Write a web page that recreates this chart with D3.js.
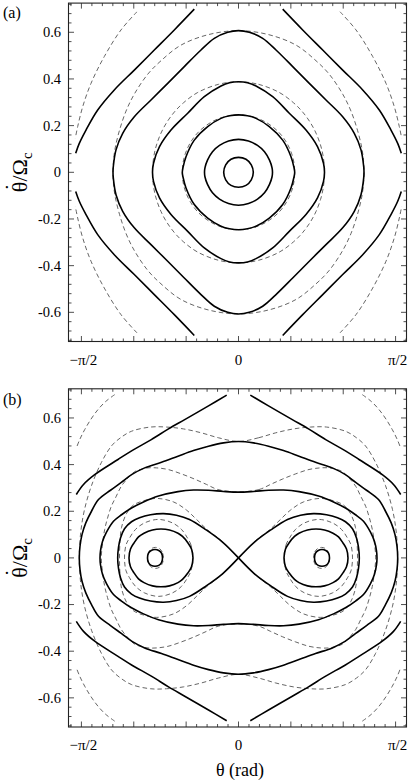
<!DOCTYPE html>
<html><head><meta charset="utf-8">
<script src="https://cdn.jsdelivr.net/npm/d3@7"></script>
<style>
body{margin:0;background:#fff}
svg{display:block}
</style>
</head><body>
<svg id="c" width="409" height="784" font-family="Liberation Serif" style="font-family:'Liberation Serif',serif"></svg>
<script>
// ---------- axis data ----------
const xTickLabels = [[-Math.PI/2, "\u2212\u03c0/2"], [0, "0"], [Math.PI/2, "\u03c0/2"]];
const yTickLabels = [0.6, 0.4, 0.2, 0, -0.2, -0.4, -0.6];
const xDomain = [-1.70, 1.68];
const yDomain = [-0.725, 0.725];

// ---------- panel (a) : quadrant arcs [theta, thetaDot] from top (theta=0) to side (thetaDot=0) ----------
const aSolid1 = [[0,0.064],[0.075,0.056],[0.128,0.032],[0.148,0]];
const aSolid2 = [[0,0.141],[0.1,0.134],[0.19,0.115],[0.26,0.088],[0.31,0.052],[0.335,0.02],[0.34,0]];
const aSolid3 = [[0,0.246],[0.09,0.242],[0.175,0.231],[0.308,0.196],[0.442,0.138],[0.525,0.067],[0.555,0.02],[0.562,0]];
const aSolid4 = [[0,0.388],[0.09,0.384],[0.175,0.37],[0.342,0.324],[0.508,0.253],[0.675,0.181],[0.79,0.11],[0.85,0.039],[0.86,0]];
const aSolid5 = [[0,0.607],[0.108,0.6],[0.242,0.574],[0.375,0.524],[0.542,0.453],[0.708,0.381],[0.875,0.31],[1.042,0.238],[1.158,0.167],[1.225,0.096],[1.252,0.024],[1.255,0]];
// open branch (upper right), repeated in the other quadrants
const aSolidOpen = [[0.442,0.699],[0.642,0.61],[0.842,0.524],[1.042,0.438],[1.242,0.353],[1.408,0.267],[1.525,0.181],[1.592,0.124],[1.628,0.082]];
const aDash3 = [[0,0.246],[0.15,0.237],[0.28,0.213],[0.4,0.173],[0.48,0.128],[0.53,0.082],[0.555,0.04],[0.562,0]];
const aDash4 = [[0,0.388],[0.2,0.377],[0.408,0.342],[0.55,0.298],[0.642,0.258],[0.72,0.212],[0.775,0.168],[0.82,0.117],[0.848,0.065],[0.86,0]];
const aDash5 = [[0,0.607],[0.3,0.59],[0.575,0.545],[0.775,0.478],[0.908,0.42],[1.042,0.335],[1.125,0.262],[1.19,0.18],[1.235,0.1],[1.252,0.04],[1.255,0]];
const aDashOpen = [[1.015,0.688],[1.175,0.61],[1.342,0.496],[1.475,0.381],[1.558,0.281],[1.608,0.196],[1.632,0.146]];

// ---------- panel (b) ----------
const bSolidOpen = [[0.118,0.698],[0.3,0.652],[0.538,0.593],[0.7,0.553],[0.872,0.507],[1.065,0.46],[1.205,0.422],[1.438,0.357],[1.55,0.315],[1.622,0.272]];
const bSolidOuter = [[0,0.499],[0.15,0.493],[0.3,0.479],[0.45,0.46],[0.605,0.436],[0.77,0.41],[0.938,0.386],[1.065,0.358],[1.172,0.324],[1.28,0.29],[1.4,0.25],[1.47,0.2],[1.527,0.15],[1.565,0.1],[1.585,0.05],[1.592,0]];
const bSolidPeanut = [[0,0.282],[0.15,0.285],[0.3,0.29],[0.45,0.291],[0.605,0.284],[0.8,0.265],[0.95,0.24],[1.07,0.214],[1.17,0.185],[1.25,0.157],[1.32,0.11],[1.36,0.07],[1.38,0.03],[1.385,0]];
// separatrix lobe, upper half of the right lobe, from the origin to the outer tip
const bSolidLobe = [[0,0],[0.157,0.067],[0.323,0.12],[0.49,0.165],[0.62,0.183],[0.75,0.19],[0.88,0.185],[0.99,0.172],[1.07,0.155],[1.14,0.125],[1.18,0.085],[1.2,0.045],[1.208,0]];
// orbits around the right well, upper half, from inner to outer end
const bSolidRing = [[0.455,0],[0.47,0.038],[0.505,0.064],[0.56,0.092],[0.605,0.106],[0.69,0.12],[0.775,0.124],[0.86,0.12],[0.945,0.106],[1.0,0.09],[1.045,0.064],[1.08,0.038],[1.095,0]];
const bSolidSmall = [[0.76,0],[0.77,0.02],[0.797,0.032],[0.835,0.036],[0.873,0.032],[0.9,0.02],[0.91,0]];
const bDashOpen = [[1.238,0.70],[1.33,0.67],[1.405,0.636],[1.475,0.595],[1.538,0.55],[1.585,0.51],[1.622,0.471]];
const bDashOuter = [[0,0.499],[0.2,0.515],[0.37,0.536],[0.55,0.553],[0.72,0.561],[0.88,0.561],[1.07,0.543],[1.18,0.515],[1.27,0.48],[1.37,0.41],[1.47,0.31],[1.54,0.207],[1.575,0.12],[1.59,0.04],[1.592,0]];
const bDashPeanut = [[0,0.283],[0.205,0.293],[0.32,0.315],[0.44,0.338],[0.57,0.36],[0.705,0.379],[0.82,0.386],[0.905,0.386],[0.975,0.38],[1.038,0.37],[1.1,0.345],[1.172,0.307],[1.225,0.262],[1.272,0.221],[1.31,0.17],[1.338,0.122],[1.36,0.06],[1.372,0]];
const bDashLobe = [[0,0],[0.157,0.068],[0.323,0.125],[0.42,0.165],[0.52,0.205],[0.65,0.24],[0.818,0.255],[0.95,0.245],[1.052,0.226],[1.12,0.19],[1.17,0.13],[1.185,0.07],[1.19,0]];
const bDashRing = [[0.46,0],[0.475,0.055],[0.51,0.085],[0.57,0.122],[0.66,0.15],[0.8,0.165],[0.94,0.15],[1.03,0.122],[1.09,0.085],[1.125,0.055],[1.14,0]];
const bDashSmall = [[0.75,0],[0.763,0.025],[0.79,0.04],[0.83,0.045],[0.87,0.04],[0.897,0.025],[0.91,0]];

// ---------- symmetry helpers ----------
const negV = ([t,v]) => [t,-v];
const negT = ([t,v]) => [-t,v];
function quadLoop(q){
  const q4 = q.slice(0,-1).reverse().map(negV);
  const q3 = q.slice(1).map(([t,v]) => [-t,-v]);
  const q2 = q.slice(1,-1).reverse().map(negT);
  return q.concat(q4,q3,q2);
}
function halfLoop(h){ return h.concat(h.slice(1,-1).reverse().map(negV)); }
function lobe(h){ return h.concat(h.slice(0,-1).reverse().map(negV)); }
function fourCopies(b){ return [b, b.map(negT), b.map(negV), b.map(([t,v])=>[-t,-v])]; }

// ---------- layout ----------
const svg = d3.select('#c');
const FONT = "'Liberation Serif', 'Times New Roman', serif";
const panels = [
  {label:'(a)', top:3.1, bottom:341.5, labY:18,
   closedSolid:[aSolid1,aSolid2,aSolid3,aSolid4,aSolid5].map(quadLoop),
   closedDash:[aDash3,aDash4,aDash5].map(quadLoop),
   openSolid:fourCopies(aSolidOpen), openDash:fourCopies(aDashOpen)},
  {label:'(b)', top:388.8, bottom:727.0, labY:405, xTitle:true,
   closedSolid:[bSolidOuter,bSolidPeanut].map(quadLoop)
      .concat([bSolidRing,bSolidSmall].flatMap(h => { const l = halfLoop(h); return [l, l.map(negT)]; })),
   closedDash:[bDashOuter,bDashPeanut].map(quadLoop)
      .concat([bDashRing,bDashSmall].flatMap(h => { const l = halfLoop(h); return [l, l.map(negT)]; })),
   openSolid:fourCopies(bSolidOpen).concat([lobe(bSolidLobe), lobe(bSolidLobe).map(negT)]),
   openDash:fourCopies(bDashOpen).concat([lobe(bDashLobe), lobe(bDashLobe).map(negT)])}
];

const x = d3.scaleLinear().domain(xDomain).range([68.5, 406.5]);
const tickCol = '#222';

panels.forEach((p, i) => {
  const y = d3.scaleLinear().domain(yDomain).range([p.bottom, p.top]);
  const g = svg.append('g').attr('font-family', FONT);
  const clipId = 'clip' + i;
  svg.append('clipPath').attr('id', clipId).append('rect')
    .attr('x', x.range()[0]).attr('y', p.top)
    .attr('width', x.range()[1]-x.range()[0]).attr('height', p.bottom-p.top);

  const plot = g.append('g').attr('clip-path', `url(#${clipId})`);
  const closedLine = d3.line().x(d=>x(d[0])).y(d=>y(d[1])).curve(d3.curveCatmullRomClosed.alpha(0.5));
  const openLine = d3.line().x(d=>x(d[0])).y(d=>y(d[1])).curve(d3.curveCatmullRom.alpha(0.5));

  const dashStyle = s => s.attr('fill','none').attr('stroke','#555').attr('stroke-width',0.9).attr('stroke-dasharray','4.5,3');
  const solidStyle = s => s.attr('fill','none').attr('stroke','#000').attr('stroke-width',1.6).attr('stroke-linejoin','round');

  plot.selectAll('path.cd').data(p.closedDash).join('path').attr('class','cd').attr('d', closedLine).call(dashStyle);
  plot.selectAll('path.od').data(p.openDash).join('path').attr('class','od').attr('d', openLine).call(dashStyle);
  plot.selectAll('path.cs').data(p.closedSolid).join('path').attr('class','cs').attr('d', closedLine).call(solidStyle);
  plot.selectAll('path.os').data(p.openSolid).join('path').attr('class','os').attr('d', openLine).call(solidStyle);

  // ticks
  const xMinor = d3.range(-16, 17).map(k => k*Math.PI/30).filter(v => v > xDomain[0] && v < xDomain[1]);
  const yMinor = d3.range(-18, 19).map(k => k*0.04).filter(v => v > yDomain[0]+0.001 && v < yDomain[1]-0.001);
  const tg = g.append('g').attr('stroke', tickCol).attr('stroke-width', 0.8);
  xMinor.forEach(v => {
    const major = Math.abs(Math.round(v/(Math.PI/6))*(Math.PI/6) - v) < 1e-6;
    const L = major ? 5.5 : 3;
    tg.append('line').attr('x1', x(v)).attr('x2', x(v)).attr('y1', p.bottom).attr('y2', p.bottom - L);
    tg.append('line').attr('x1', x(v)).attr('x2', x(v)).attr('y1', p.top).attr('y2', p.top + L);
  });
  yMinor.forEach(v => {
    const major = Math.abs(Math.round(v/0.2)*0.2 - v) < 1e-6;
    const L = major ? 5.5 : 3;
    tg.append('line').attr('x1', x.range()[0]).attr('x2', x.range()[0] + L).attr('y1', y(v)).attr('y2', y(v));
    tg.append('line').attr('x1', x.range()[1]).attr('x2', x.range()[1] - L).attr('y1', y(v)).attr('y2', y(v));
  });

  // frame
  g.append('rect').attr('x', x.range()[0]).attr('y', p.top)
    .attr('width', x.range()[1]-x.range()[0]).attr('height', p.bottom-p.top)
    .attr('fill','none').attr('stroke','#222').attr('stroke-width',1.1);

  // y tick labels
  g.selectAll('text.yl').data(yTickLabels).join('text').attr('class','yl')
    .attr('x', 61).attr('y', d => y(d)).attr('dy','0.34em')
    .attr('text-anchor','end').attr('font-size', 14.5)
    .text(d => d === 0 ? '0' : (d < 0 ? '-' + Math.abs(d).toFixed(1) : d.toFixed(1)));

  // x tick labels
  g.selectAll('text.xl').data(xTickLabels).join('text').attr('class','xl')
    .attr('x', d => x(d[0]) + (d[1] === '0' ? 0 : 2)).attr('y', p.bottom + 23)
    .attr('text-anchor','middle').attr('font-size', 15)
    .text(d => d[1]);

  // panel label
  g.append('text').attr('x', 3).attr('y', p.labY).attr('font-size', 16).text(p.label);

  // y axis title: theta with a dot above, "/Omega", subscript c
  const yt = g.append('text')
    .attr('transform', `translate(27,${(p.top+p.bottom)/2}) rotate(-90)`)
    .attr('text-anchor','middle').attr('font-size', 22);
  yt.append('tspan').text('\u03b8');
  yt.append('tspan').attr('dx','-0.42em').attr('dy','-0.3em').text('\u02d9');
  yt.append('tspan').attr('dx','0.09em').attr('dy','0.3em').text('/\u03a9');
  yt.append('tspan').attr('font-size', 15).attr('dy', 5).text('c');

  if (p.xTitle) {
    g.append('text').attr('x', 240).attr('y', 776).attr('text-anchor','middle')
      .attr('font-size', 18).text('\u03b8 (rad)');
  }
});
</script>
</body></html>
